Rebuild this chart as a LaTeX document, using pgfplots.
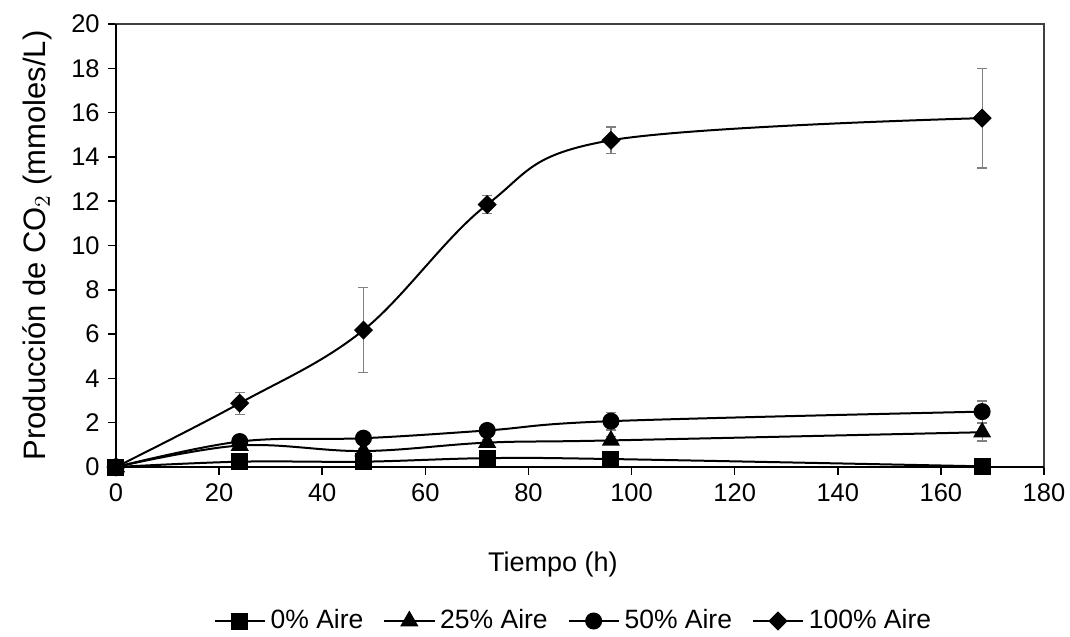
\documentclass[border=0pt]{standalone}
\usepackage{pgfplots}
\pgfplotsset{compat=1.18}
\usepackage{fontspec}
\setmainfont{Liberation Sans}
\usetikzlibrary{calc}
\definecolor{errgray}{HTML}{808080}
\definecolor{boxgray}{HTML}{404040}

\begin{document}
\begin{tikzpicture}
\begin{axis}[
    scale only axis,
    width=371.2pt, height=177.2pt,
    xmin=0, xmax=180, ymin=0, ymax=20,
    xtick={0,20,...,180}, ytick={0,2,...,20},
    tick align=outside, tick pos=left,
    major tick length=3pt,
    axis line style={boxgray, line width=0.6pt},
    every tick/.style={black, line width=0.6pt},
    tick label style={font=\fontsize{10.2}{12}\selectfont},
    /pgf/number format/assume math mode=true,
    xlabel={Tiempo (h)},
    ylabel={Producción de CO$_2$ (mmoles/L)},
    xlabel style={font=\fontsize{10.8}{13}\selectfont,
        at={(axis description cs:0.5,0)}, anchor=center, yshift=-39.2pt, xshift=-10.8pt},
    ylabel style={font=\fontsize{12.4}{14}\selectfont,
        at={(axis description cs:0,0.5)}, anchor=center, yshift=31.5pt},
    legend columns=4,
    legend style={at={(axis description cs:0.5,0)}, anchor=center,
        yshift=-61.6pt, xshift=-2pt,
        draw=none, font=\fontsize{10.6}{12}\selectfont, inner sep=0pt,
        /tikz/every even column/.append style={column sep=6pt}},
    legend image code/.code={
        \draw[mark repeat=2, mark phase=2, #1]
            plot coordinates {(0cm,0cm) (0.35cm,0cm) (0.7cm,0cm)};},
    every axis plot/.append style={black, line width=0.8pt, smooth, tension=0.6},
    error bars/y dir=both, error bars/y explicit,
    error bars/error bar style={errgray, line width=0.5pt},
    error bars/error mark options={errgray, rotate=90, mark size=2pt, line width=0.5pt},
    clip=false,
]
\coordinate (sw) at (rel axis cs:0,0);
\coordinate (ne) at (rel axis cs:1,1);
\draw[boxgray, line width=0.6pt] (rel axis cs:0,1) -- (rel axis cs:1,1) -- (rel axis cs:1,0);
\draw[black, line width=0.8pt] (rel axis cs:0,1) -- (rel axis cs:0,0) -- (rel axis cs:1,0);

\addplot[mark=square*, mark size=3pt] coordinates {
    (0,0) +- (0,0.02)
    (24,0.24) +- (0,0.05)
    (48,0.24) +- (0,0.05)
    (72,0.40) +- (0,0.08)
    (96,0.36) +- (0,0.08)
    (168,0.03) +- (0,0.02)
};
\addlegendentry{0\% Aire}

\addplot[mark=triangle*, mark size=3.4pt] coordinates {
    (0,0) +- (0,0.02)
    (24,0.97) +- (0,0.08)
    (48,0.72) +- (0,0.12)
    (72,1.10) +- (0,0.15)
    (96,1.20) +- (0,0.18)
    (168,1.57) +- (0,0.4)
};
\addlegendentry{25\% Aire}

\addplot[mark=*, mark size=3pt] coordinates {
    (0,0) +- (0,0.02)
    (24,1.15) +- (0,0.08)
    (48,1.30) +- (0,0.08)
    (72,1.65) +- (0,0.12)
    (96,2.07) +- (0,0.40)
    (168,2.50) +- (0,0.48)
};
\addlegendentry{50\% Aire}

\addplot[mark=square*, mark options={rotate=45}, mark size=2.3pt] coordinates {
    (0,0) +- (0,0.02)
    (24,2.88) +- (0,0.50)
    (48,6.18) +- (0,1.93)
    (72,11.85) +- (0,0.42)
    (96,14.75) +- (0,0.60)
    (168,15.75) +- (0,2.25)
};
\addlegendentry{100\% Aire}
\end{axis}
\pgfresetboundingbox
\path[use as bounding box] ($(sw)+(-46.4pt,-67.6pt)$) rectangle ($(ne)+(10.4pt,9.6pt)$);
\end{tikzpicture}
\end{document}
